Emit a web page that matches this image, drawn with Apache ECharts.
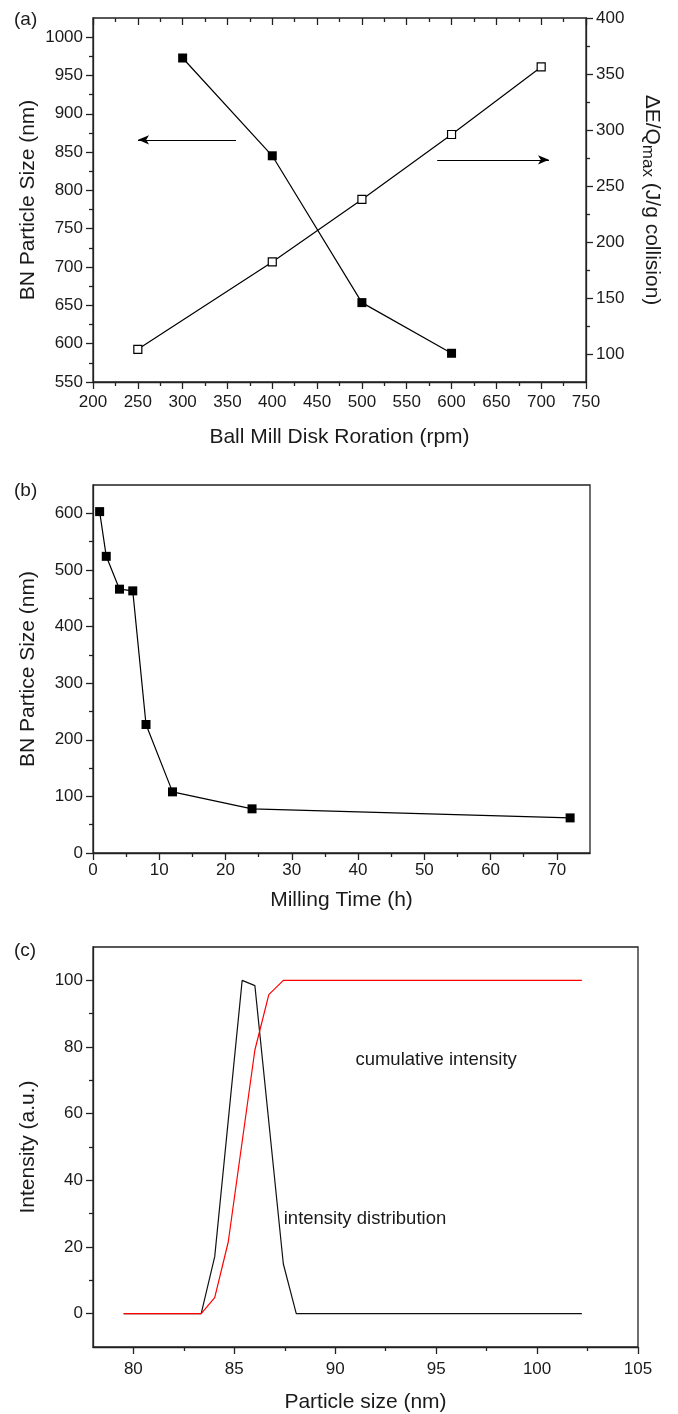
<!DOCTYPE html>
<html><head><meta charset="utf-8">
<script src="https://cdn.jsdelivr.net/npm/echarts@6/dist/echarts.min.js"></script>
<style>html,body{margin:0;padding:0;background:#fff}#chart{width:678px;height:1414px}</style>
</head><body><div id="chart"></div>
<script>
const FONT = '"Liberation Sans", Arial, sans-serif';
const INK = '#1a1a1a';

// ---------- Panel (a) ----------
const rotationSize = [300, 400, 500, 600];
const particleSizeA = [972.8, 845.2, 653.6, 587.5];
const rotationEnergy = [250, 400, 500, 600, 700];
const energyQmax = [104.2, 182.2, 238, 296, 356.3];
const aXMajor = [200, 250, 300, 350, 400, 450, 500, 550, 600, 650, 700, 750];
const aXMinor = [225, 275, 325, 375, 425, 475, 525, 575, 625, 675, 725];
const aYLeftMajor = [550, 600, 650, 700, 750, 800, 850, 900, 950, 1000];
const aYLeftMinor = [575, 625, 675, 725, 775, 825, 875, 925, 975];
const aYRightMajor = [100, 150, 200, 250, 300, 350, 400];
const aYRightMinor = [125, 175, 225, 275, 325, 375];
const arrowLeft = [[359.5, 866], [250.2, 866]];
const arrowRight = [[584, 273.4], [708.7, 273.4]];

// ---------- Panel (b) ----------
const millingTime = [1, 2, 4, 6, 8, 12, 24, 72];
const particleSizeB = [603, 524, 466, 463, 227, 108, 78, 62];
const bXMajor = [0, 10, 20, 30, 40, 50, 60, 70];
const bXMinor = [5, 15, 25, 35, 45, 55, 65];
const bYMajor = [0, 100, 200, 300, 400, 500, 600];
const bYMinor = [50, 150, 250, 350, 450, 550];

// ---------- Panel (c) ----------
const distSize = [79.52, 83.36, 84.03, 85.39, 86.02, 87.43, 88.07, 102.22];
const distIntensity = [0, 0, 17.1, 100, 98.4, 14.9, 0, 0];
const cumSize = [79.52, 83.36, 84.03, 84.70, 86.02, 86.71, 87.43, 102.22];
const cumIntensity = [0, 0, 4.8, 21.5, 79.1, 95.7, 100, 100];
const cXMajor = [80, 85, 90, 95, 100, 105];
const cXMinor = [82.5, 87.5, 92.5, 97.5, 102.5];
const cYMajor = [0, 20, 40, 60, 80, 100];
const cYMinor = [10, 30, 50, 70, 90];
const labelDist = [87.45, 28.4];
const labelCum = [91.0, 76.1];

const zip = (a, b) => a.map((v, i) => [v, b[i]]);

function mainAxis(grid, pos, min, max, major, name, nameGap, margin, extra) {
  return Object.assign({
    type: 'value', gridIndex: grid, position: pos, min: min, max: max,
    name: name, nameLocation: 'middle', nameGap: nameGap, nameMoveOverlap: false,
    nameTextStyle: { fontFamily: FONT, fontSize: 21, color: INK },
    axisLine: { show: true, onZero: false, lineStyle: { color: '#222', width: 1.3 } },
    axisTick: { show: true, inside: false, length: 7, customValues: major, lineStyle: { color: '#222', width: 1.3 } },
    axisLabel: { show: true, customValues: major, fontFamily: FONT, fontSize: 17, color: INK, margin: margin,
      formatter: (v) => String(v) },
    splitLine: { show: false }
  }, extra || {});
}
function tickAxis(grid, pos, min, max, vals, len, inside) {
  return {
    type: 'value', gridIndex: grid, position: pos, min: min, max: max,
    axisLine: { show: false, onZero: false },
    axisTick: { show: true, inside: !!inside, length: len, customValues: vals, lineStyle: { color: '#222', width: 1.3 } },
    axisLabel: { show: false },
    splitLine: { show: false }
  };
}

const xAxis = [
  mainAxis(0, 'bottom', 200, 750, aXMajor, 'Ball Mill Disk Roration (rpm)', 45, 12),   // 0
  tickAxis(0, 'bottom', 200, 750, aXMinor, 4),                                        // 1
  tickAxis(0, 'top', 200, 750, aXMajor, 7, true),                                     // 2
  tickAxis(0, 'top', 200, 750, aXMinor, 4, true),                                     // 3
  mainAxis(1, 'bottom', 0, 75, bXMajor, 'Milling Time (h)', 37, 9),                   // 4
  tickAxis(1, 'bottom', 0, 75, bXMinor, 4),                                           // 5
  mainAxis(2, 'bottom', 78, 105, cXMajor, 'Particle size (nm)', 45, 14),              // 6
  tickAxis(2, 'bottom', 78, 105, cXMinor, 4)                                          // 7
];
const yAxis = [
  mainAxis(0, 'left', 550, 1025, aYLeftMajor, 'BN Particle Size (nm)', 54, 10),       // 0
  tickAxis(0, 'left', 550, 1025, aYLeftMinor, 4),                                     // 1
  mainAxis(0, 'right', 75, 400, aYRightMajor, '{n|ΔE/Q}{s|max}{n| (J/g collision)}', 53, 10, {
    nameRotate: -90,
    nameTextStyle: { fontFamily: FONT, fontSize: 21, color: INK,
      rich: { n: { fontFamily: FONT, fontSize: 21, color: INK },
              s: { fontFamily: FONT, fontSize: 17, color: INK, padding: [8, 0, 0, 0] } } }
  }),                                                                                 // 2
  tickAxis(0, 'right', 75, 400, aYRightMinor, 4),                                     // 3
  mainAxis(1, 'left', 0, 650, bYMajor, 'BN Partice Size (nm)', 54, 10),               // 4
  tickAxis(1, 'left', 0, 650, bYMinor, 4),                                            // 5
  mainAxis(2, 'left', -10, 110, cYMajor, 'Intensity (a.u.)', 54, 10),                 // 6
  tickAxis(2, 'left', -10, 110, cYMinor, 4)                                           // 7
];

const lineStyle = { color: '#000', width: 1.2 };
const arrowMark = (pts) => ({
  silent: true, symbol: ['none', 'arrow'], symbolSize: [7, 11],
  label: { show: false },
  lineStyle: { color: '#000', width: 1.2, type: 'solid' },
  data: [[{ coord: pts[0] }, { coord: pts[1] }]]
});
const textMark = (pt, text) => ({
  silent: true, symbol: 'circle', symbolSize: 0,
  label: { show: true, position: 'right', distance: 0, formatter: '{b}', fontFamily: FONT, fontSize: 18.5, color: INK },
  data: [{ name: text, coord: pt }]
});

const option = {
  animation: false,
  backgroundColor: '#fff',
  grid: [
    { left: 93, top: 18, width: 493, height: 364, show: true, borderColor: '#222', borderWidth: 1.3, backgroundColor: 'transparent' },
    { left: 93, top: 485, width: 497, height: 368, show: true, borderColor: '#222', borderWidth: 1.3, backgroundColor: 'transparent' },
    { left: 93, top: 947, width: 545, height: 402, show: true, borderColor: '#222', borderWidth: 1.3, backgroundColor: 'transparent' }
  ],
  xAxis: xAxis,
  yAxis: yAxis,
  graphic: [
    { type: 'text', left: 14, top: 10, style: { text: '(a)', font: '19px ' + FONT, fill: INK } },
    { type: 'text', left: 14, top: 481, style: { text: '(b)', font: '19px ' + FONT, fill: INK } },
    { type: 'text', left: 14, top: 941, style: { text: '(c)', font: '19px ' + FONT, fill: INK } }
  ],
  series: [
    { type: 'line', xAxisIndex: 0, yAxisIndex: 0, data: zip(rotationSize, particleSizeA),
      symbol: 'rect', symbolSize: 9, itemStyle: { color: '#000' }, lineStyle: lineStyle,
      markLine: arrowMark(arrowLeft) },
    { type: 'line', xAxisIndex: 0, yAxisIndex: 2, data: zip(rotationEnergy, energyQmax),
      symbol: 'rect', symbolSize: 8, itemStyle: { color: '#fff', borderColor: '#000', borderWidth: 1.2 }, lineStyle: lineStyle,
      markLine: arrowMark(arrowRight) },
    { type: 'line', xAxisIndex: 4, yAxisIndex: 4, data: zip(millingTime, particleSizeB),
      symbol: 'rect', symbolSize: 9, itemStyle: { color: '#000' }, lineStyle: lineStyle },
    { type: 'line', xAxisIndex: 6, yAxisIndex: 6, data: zip(distSize, distIntensity),
      showSymbol: false, symbol: 'none', lineStyle: { color: '#111', width: 1.2 },
      markPoint: textMark(labelDist, 'intensity distribution') },
    { type: 'line', xAxisIndex: 6, yAxisIndex: 6, data: zip(cumSize, cumIntensity),
      showSymbol: false, symbol: 'none', lineStyle: { color: '#ff0000', width: 1.2 },
      markPoint: textMark(labelCum, 'cumulative intensity') }
  ]
};
const chart = echarts.init(document.getElementById('chart'), null, { renderer: 'canvas' });
chart.setOption(option);
</script></body></html>
